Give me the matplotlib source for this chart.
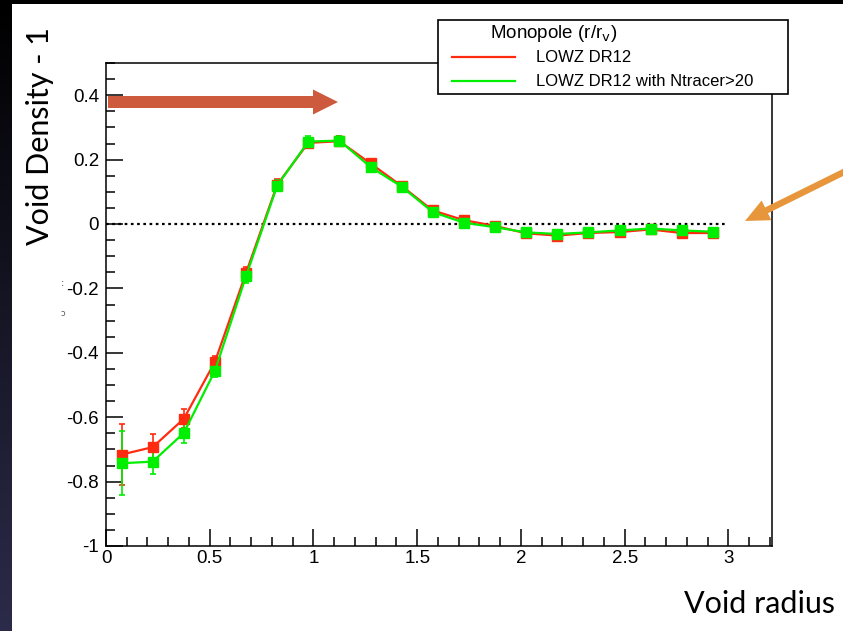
import numpy as np
import matplotlib
matplotlib.use("Agg")
import matplotlib.pyplot as plt
from matplotlib.patches import Rectangle, FancyArrow
from matplotlib.lines import Line2D
from matplotlib.ticker import MultipleLocator

# Void monopole profile, stacked in r/r_v bins
r_bins = [0.075, 0.225, 0.375, 0.525, 0.675, 0.825, 0.975, 1.125, 1.275, 1.425,
          1.575, 1.725, 1.875, 2.025, 2.175, 2.325, 2.475, 2.625, 2.775, 2.925]
lowz = [-0.716, -0.693, -0.605, -0.428, -0.152, 0.122, 0.252, 0.257, 0.188, 0.118,
        0.042, 0.012, -0.006, -0.029, -0.036, -0.028, -0.025, -0.017, -0.028, -0.028]
lowz_err = [0.095, 0.040, 0.030, 0.018, 0.020, 0.018, 0.016, 0.015, 0.013, 0.010,
            0.010, 0.008, 0.007, 0.007, 0.007, 0.007, 0.007, 0.007, 0.007, 0.007]
lowz_nt = [-0.743, -0.738, -0.649, -0.456, -0.162, 0.119, 0.256, 0.259, 0.177, 0.116,
           0.037, 0.004, -0.010, -0.026, -0.031, -0.026, -0.020, -0.014, -0.020, -0.024]
lowz_nt_err = [0.100, 0.038, 0.030, 0.018, 0.020, 0.018, 0.016, 0.015, 0.013, 0.010,
               0.010, 0.008, 0.007, 0.007, 0.007, 0.007, 0.007, 0.007, 0.007, 0.007]
series_names = ["LOWZ DR12", "LOWZ DR12 with Ntracer>20"]
series_colors = ["#ff2a10", "#00ee00"]
x_ticks = [0, 0.5, 1, 1.5, 2, 2.5, 3]
x_ticklabels = ["0", "0.5", "1", "1.5", "2", "2.5", "3"]
y_ticks = [-1, -0.8, -0.6, -0.4, -0.2, 0, 0.2, 0.4]
y_ticklabels = ["-1", "-0.8", "-0.6", "-0.4", "-0.2", "0", "0.2", "0.4"]

W, H = 843, 631
fig = plt.figure(figsize=(W / 100, H / 100), dpi=100)
fig.patch.set_facecolor("white")

ax = fig.add_axes([106 / W, 1 - 546 / H, (772 - 106) / W, (546 - 63) / H])
for y, e, c in zip([lowz, lowz_nt], [lowz_err, lowz_nt_err], series_colors):
    ax.errorbar(r_bins, y, yerr=e, color=c, lw=1.6, marker="s", ms=7,
                mec=c, capsize=2.5, elinewidth=1.2, capthick=1.2)
ax.hlines(0, 0, 3.0, colors="black", linestyles=(0, (1.2, 1.6)), lw=1.6, zorder=1)

ax.set_xlim(0, 3.21)
ax.set_ylim(-1, 0.5)
ax.xaxis.set_minor_locator(MultipleLocator(0.1))
ax.yaxis.set_minor_locator(MultipleLocator(0.05))
ax.set_xticks(x_ticks)
ax.set_xticklabels(x_ticklabels)
ax.set_yticks(y_ticks)
ax.set_yticklabels(y_ticklabels)
ax.tick_params(which="both", direction="in", top=False, right=False, width=1.1,
               labelsize=13.5)
ax.tick_params(which="major", length=12)
ax.tick_params(which="minor", length=6.5)
ax.tick_params(axis="y", pad=5)
ax.tick_params(axis="x", pad=3)
for lab in ax.get_xticklabels() + ax.get_yticklabels():
    lab.set_family("Liberation Sans")
for s in ax.spines.values():
    s.set_linewidth(1.1)

# overlay in pixel coordinates for the slide decorations
ov = fig.add_axes([0, 0, 1, 1])
ov.patch.set_alpha(0)
grad = np.linspace(0, 1, 256)
strip = np.zeros((256, 1, 3))
strip[:, 0, 0] = 0.17 * grad
strip[:, 0, 1] = 0.17 * grad
strip[:, 0, 2] = 0.29 * grad
ov.imshow(strip, extent=(0, 12, H, 0), aspect="auto", interpolation="bilinear")
ov.add_patch(Rectangle((0, 0), W, 4, color="black", lw=0))

# legend box
ov.add_patch(Rectangle((438, 20), 350, 74, fc="white", ec="black", lw=1.2, zorder=5))
ov.text(490, 33, r"Monopole (r/r$_{\rm v}$)", fontsize=13.5, family="Liberation Sans",
        va="center", ha="left", zorder=6)
for yy, name, c in zip([57, 81], series_names, series_colors):
    ov.add_line(Line2D([452, 515], [yy, yy], color=c, lw=1.6, zorder=6))
    ov.text(536, yy, name, fontsize=12, family="Liberation Sans",
            va="center", ha="left", zorder=6)

# stray marks left of the axis
ov.text(63, 283, ":", fontsize=7, color="#333333", ha="center", va="center")
ov.text(63, 313, "ɔ", fontsize=6, color="#555555", ha="center", va="center")

# arrows
ov.add_patch(FancyArrow(108, 102, 230, 0, width=12, head_width=25, head_length=25,
                        length_includes_head=True, color="#cd5a3c", lw=0))
ov.add_patch(FancyArrow(846, 171, -101, 50, width=6.5, head_width=22, head_length=24,
                        length_includes_head=True, color="#e8963c", lw=0))

ov.text(40, 136, "Void Density - 1", rotation=90, fontsize=22, family="Lato",
        ha="center", va="center")
ov.text(759, 604, "Void radius", fontsize=22, family="Lato", ha="center", va="center")

ov.set_xlim(0, W)
ov.set_ylim(H, 0)
ov.axis("off")

fig.savefig("out.png", dpi=100)
